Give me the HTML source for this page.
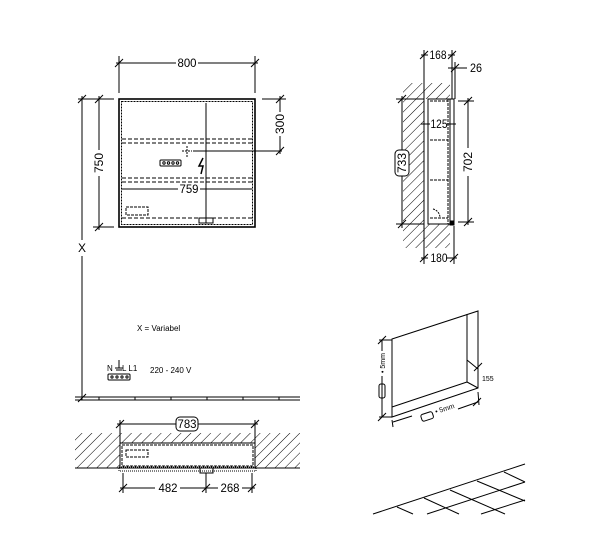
<!DOCTYPE html>
<html><head><meta charset="utf-8"><style>body{margin:0;background:#fff}svg{display:block}text{font-family:"Liberation Sans",sans-serif;fill:#000}</style></head><body>
<svg width="600" height="557" viewBox="0 0 600 557" xmlns="http://www.w3.org/2000/svg">
<defs>
<pattern id="h" width="7" height="7" patternUnits="userSpaceOnUse" patternTransform="rotate(45)"><line x1="0" y1="0" x2="0" y2="7" stroke="#000" stroke-width="1"/></pattern>
</defs>
<g stroke="#000" fill="none" stroke-width="1">
<!-- front view -->
<rect x="119" y="99" width="136" height="128" stroke-width="1.6"/>
<rect x="121.5" y="101.5" width="131" height="123" stroke-dasharray="2,1"/>
<line x1="206" y1="103" x2="206" y2="223"/>
<line x1="122" y1="139" x2="252" y2="139" stroke-dasharray="4,2"/>
<line x1="122" y1="143" x2="252" y2="143" stroke-dasharray="4,2"/>
<line x1="122" y1="178" x2="252" y2="178" stroke-dasharray="4,2"/>
<line x1="122" y1="182" x2="252" y2="182" stroke-dasharray="4,2"/>
<line x1="122" y1="218" x2="252" y2="218" stroke-dasharray="4,2"/>
<line x1="121" y1="189" x2="178" y2="189"/><line x1="200" y1="189" x2="252" y2="189"/>
<rect x="126" y="207" width="22" height="8" stroke-dasharray="3,1"/>
<rect x="199" y="218" width="14" height="5"/>
<rect x="160" y="160" width="21" height="6" rx="1"/>
<circle cx="164" cy="163" r="1.2"/><circle cx="168.5" cy="163" r="1.2"/><circle cx="173" cy="163" r="1.2"/><circle cx="177.5" cy="163" r="1.2"/>
<line x1="187" y1="146" x2="187" y2="157" stroke-dasharray="2,1"/><line x1="182" y1="151" x2="192" y2="151" stroke-dasharray="2,1"/>
<line x1="193" y1="151" x2="282" y2="151"/>
<path d="M203 158 L199 166 L203 166 L201 174" stroke-width="1.5"/>
<!-- 800 dim -->
<line x1="119" y1="56" x2="119" y2="93"/><line x1="255" y1="56" x2="255" y2="93"/>
<line x1="116" y1="63" x2="176" y2="63"/><line x1="198" y1="63" x2="258" y2="63"/>
<line x1="115" y1="67" x2="123" y2="59"/><line x1="251" y1="67" x2="259" y2="59"/>
<!-- 300 -->
<line x1="262" y1="99" x2="286" y2="99"/><line x1="280" y1="96" x2="280" y2="112"/><line x1="280" y1="136" x2="280" y2="154"/>
<line x1="276" y1="103" x2="284" y2="95"/><line x1="276" y1="155" x2="284" y2="147"/>
<!-- 750 -->
<line x1="78" y1="99" x2="114" y2="99"/><line x1="93" y1="227" x2="114" y2="227"/>
<line x1="99" y1="96" x2="99" y2="150"/><line x1="99" y1="176" x2="99" y2="230"/>
<line x1="95" y1="103" x2="103" y2="95"/><line x1="95" y1="231" x2="103" y2="223"/>
<line x1="78" y1="103" x2="86" y2="95"/>
<line x1="82" y1="96" x2="82" y2="240"/><line x1="82" y1="256" x2="82" y2="400"/>
<line x1="78" y1="402" x2="86" y2="394"/>
<!-- floor -->
<line x1="75" y1="397" x2="300" y2="397"/><line x1="75" y1="400" x2="300" y2="400"/>
<path d="M99 397v3M135 397v3M171 397v3M207 397v3M243 397v3M279 397v3"/>
<rect x="108" y="374" width="22" height="6" rx="1"/>
<circle cx="112" cy="377" r="1.1"/><circle cx="117" cy="377" r="1.1"/><circle cx="122" cy="377" r="1.1"/><circle cx="127" cy="377" r="1.1"/>
<line x1="119" y1="360" x2="119" y2="368"/><line x1="115" y1="368" x2="123" y2="368"/><line x1="116" y1="370" x2="122" y2="370"/>
<!-- plan -->
<rect x="75" y="433" width="225" height="35" fill="url(#h)" stroke="none"/>
<rect x="120" y="443" width="135" height="25" fill="#fff" stroke="#000"/>
<rect x="122" y="445" width="131" height="21" stroke-dasharray="3,1"/>
<rect x="119" y="467" width="137" height="4" stroke-dasharray="1,1"/>
<rect x="200" y="468" width="13" height="5"/>
<rect x="126" y="450" width="22" height="7" stroke-dasharray="3,1"/>
<line x1="75" y1="468" x2="120" y2="468"/><line x1="255" y1="468" x2="300" y2="468"/>
<line x1="120" y1="420" x2="120" y2="443"/><line x1="255" y1="420" x2="255" y2="443"/>
<line x1="117" y1="424" x2="176" y2="424"/><line x1="198" y1="424" x2="258" y2="424"/>
<line x1="116" y1="428" x2="124" y2="420"/><line x1="251" y1="428" x2="259" y2="420"/>
<rect x="176" y="417" width="22" height="14" rx="4"/>
<line x1="123" y1="473" x2="123" y2="493"/><line x1="206" y1="473" x2="206" y2="493"/><line x1="252" y1="473" x2="252" y2="493"/>
<line x1="120" y1="488" x2="155" y2="488"/><line x1="180" y1="488" x2="218" y2="488"/><line x1="242" y1="488" x2="255" y2="488"/>
<line x1="119" y1="492" x2="127" y2="484"/><line x1="202" y1="492" x2="210" y2="484"/><line x1="248" y1="492" x2="256" y2="484"/>
<!-- side view -->
<rect x="403" y="83" width="21" height="165" fill="url(#h)" stroke="none"/>
<rect x="424" y="83" width="26" height="16" fill="url(#h)" stroke="none"/>
<rect x="424" y="224" width="26" height="24" fill="url(#h)" stroke="none"/>
<line x1="424" y1="50" x2="424" y2="260"/>
<rect x="428" y="99" width="22" height="125" fill="#fff"/>
<line x1="430" y1="101" x2="448" y2="101" stroke-dasharray="3,1"/>
<line x1="430" y1="140" x2="448" y2="140" stroke-dasharray="3,1"/>
<line x1="430" y1="180" x2="448" y2="180" stroke-dasharray="3,1"/>
<line x1="430" y1="218" x2="448" y2="218" stroke-dasharray="3,1"/>
<line x1="448" y1="99" x2="448" y2="224" stroke-dasharray="3,1"/>
<rect x="450" y="99" width="4" height="125"/>
<rect x="450" y="221" width="4" height="4" fill="#000"/>
<line x1="452" y1="50" x2="452" y2="99"/><line x1="455" y1="62" x2="455" y2="99"/>
<line x1="421" y1="55" x2="428" y2="55"/><line x1="448" y1="55" x2="455" y2="55"/>
<line x1="420" y1="59" x2="428" y2="51"/><line x1="448" y1="59" x2="456" y2="51"/>
<line x1="448" y1="68" x2="467" y2="68"/><line x1="451" y1="72" x2="459" y2="64"/>
<line x1="396" y1="99" x2="424" y2="99"/><line x1="396" y1="224" x2="424" y2="224"/>
<line x1="402" y1="96" x2="402" y2="150"/><line x1="402" y1="176" x2="402" y2="228"/>
<line x1="398" y1="103" x2="406" y2="95"/><line x1="398" y1="228" x2="406" y2="220"/>
<rect x="395" y="150" width="14" height="26" rx="4" fill="#fff"/>
<line x1="458" y1="101" x2="474" y2="101"/><line x1="458" y1="222" x2="474" y2="222"/>
<line x1="468" y1="98" x2="468" y2="148"/><line x1="468" y1="176" x2="468" y2="225"/>
<line x1="464" y1="105" x2="472" y2="97"/><line x1="464" y1="226" x2="472" y2="218"/>
<line x1="421" y1="124" x2="430" y2="124"/><line x1="447" y1="124" x2="456" y2="124"/>
<line x1="424" y1="248" x2="424" y2="264"/><line x1="454" y1="226" x2="454" y2="264"/>
<line x1="421" y1="258" x2="428" y2="258"/><line x1="446" y1="258" x2="457" y2="258"/>
<line x1="420" y1="262" x2="428" y2="254"/><line x1="450" y1="262" x2="458" y2="254"/>
<path d="M433 209 A9 9 0 0 1 440 218" stroke-dasharray="2,1"/>
<!-- niche 3D -->
<path d="M392 339 L478 311 L478 388 L392 417 Z"/>
<line x1="467" y1="314" x2="467" y2="382"/>
<line x1="392" y1="407" x2="467" y2="382"/><line x1="467" y1="382" x2="478" y2="388"/>
<line x1="382" y1="340" x2="382" y2="351"/><line x1="382" y1="376" x2="382" y2="417"/>
<line x1="378" y1="344" x2="386" y2="336"/><line x1="378" y1="421" x2="386" y2="413"/>
<line x1="379" y1="340" x2="392" y2="340"/><line x1="379" y1="417" x2="392" y2="417"/>
<rect x="379" y="384" width="6" height="14" rx="2"/>
<line x1="392" y1="420" x2="393" y2="427"/><line x1="478" y1="392" x2="479" y2="405"/>
<line x1="393" y1="422" x2="412" y2="416"/><line x1="458" y1="409" x2="478" y2="402"/>
<line x1="473" y1="406" x2="481" y2="398"/>
<rect x="421" y="413" width="12" height="7" rx="2" transform="rotate(-18 427 416)"/>
<line x1="467" y1="360" x2="478" y2="369"/><line x1="474" y1="371" x2="482" y2="363"/>
<!-- tiles -->
<line x1="373" y1="514" x2="525" y2="464"/>
<line x1="427" y1="514" x2="525" y2="482"/>
<line x1="481" y1="514" x2="525" y2="500"/>
<line x1="397" y1="507" x2="413" y2="514"/>
<line x1="424" y1="498" x2="459" y2="514"/>
<line x1="450" y1="490" x2="505" y2="514"/>
<line x1="477" y1="481" x2="525" y2="501"/>
<line x1="504" y1="472" x2="525" y2="482"/>
</g>
<g font-size="12">
<text x="187" y="67" text-anchor="middle" textLength="19" lengthAdjust="spacingAndGlyphs">800</text>
<text x="189" y="193" text-anchor="middle" textLength="19" lengthAdjust="spacingAndGlyphs">759</text>
<text x="187" y="428" text-anchor="middle" textLength="19" lengthAdjust="spacingAndGlyphs">783</text>
<text x="168" y="492" text-anchor="middle" textLength="19" lengthAdjust="spacingAndGlyphs">482</text>
<text x="230" y="492" text-anchor="middle" textLength="19" lengthAdjust="spacingAndGlyphs">268</text>
<text x="438" y="59" text-anchor="middle" textLength="17" lengthAdjust="spacingAndGlyphs">168</text>
<text x="470" y="72" textLength="12" lengthAdjust="spacingAndGlyphs">26</text>
<text x="439" y="128" text-anchor="middle" textLength="17" lengthAdjust="spacingAndGlyphs">125</text>
<text x="439" y="262" text-anchor="middle" textLength="17" lengthAdjust="spacingAndGlyphs">180</text>
<text transform="translate(103,163) rotate(-90)" text-anchor="middle">750</text>
<text transform="translate(284,124) rotate(-90)" text-anchor="middle">300</text>
<text transform="translate(406,163) rotate(-90)" text-anchor="middle">733</text>
<text transform="translate(472,162) rotate(-90)" text-anchor="middle">702</text>
<text x="82" y="252" text-anchor="middle" font-size="12">X</text>
</g>
<g font-size="8">
<text x="137" y="331">X = Variabel</text>
<text x="150" y="373">220 - 240 V</text>
<text x="107" y="371">N</text><text x="122" y="371">L L1</text>
<text x="482" y="381" font-size="7">155</text>
<text transform="translate(385,373) rotate(-90)" font-size="7">• 5mm</text>
<text transform="translate(436,414) rotate(-18)" font-size="7">• 5mm</text>
</g>
</svg>
</body></html>
